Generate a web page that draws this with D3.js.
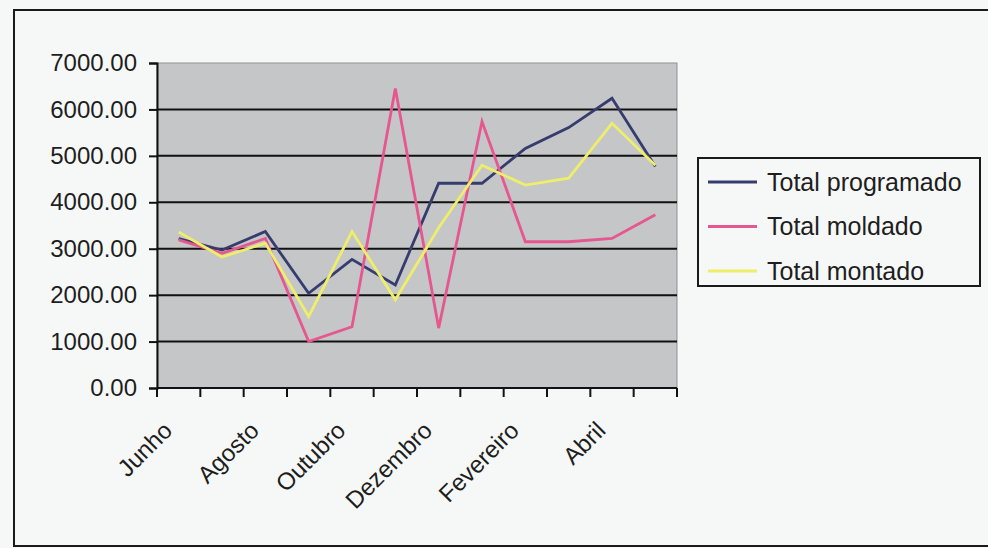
<!DOCTYPE html>
<html>
<head>
<meta charset="utf-8">
<script src="https://cdn.jsdelivr.net/npm/d3@7"></script>
<style>
  html, body { margin: 0; padding: 0; background: #f6f8f7; }
  svg { display: block; }
  text { font-family: "Liberation Sans", Arial, sans-serif; fill: #1e1e1e; }
</style>
</head>
<body>
<svg id="chart" width="988" height="548"></svg>
<script>
// Monthly totals, June through May
const months = ["Junho", "Julho", "Agosto", "Setembro", "Outubro", "Novembro",
                "Dezembro", "Janeiro", "Fevereiro", "Março", "Abril", "Maio"];
const shownMonths = ["Junho", "Agosto", "Outubro", "Dezembro", "Fevereiro", "Abril"];
const yTicks = [0, 1000, 2000, 3000, 4000, 5000, 6000, 7000];

const totalProgramado = [3220, 2970, 3370, 2040, 2770, 2220, 4410, 4410, 5160, 5610, 6240, 4770];
const totalMoldado    = [3190, 2900, 3220, 1000, 1320, 6450, 1290, 5740, 3150, 3150, 3220, 3730];
const totalMontado    = [3360, 2820, 3120, 1540, 3370, 1900, 3450, 4800, 4370, 4520, 5700, 4800];

const seriesNames = ["Total programado", "Total moldado", "Total montado"];
const seriesColors = ["#363c6e", "#e6568f", "#eeee6a"];
const series = [totalProgramado, totalMoldado, totalMontado].map((vals, i) => ({
  name: seriesNames[i], color: seriesColors[i], values: vals
}));

const svg = d3.select("#chart");

// outer chart frame (right edge runs off the page)
svg.append("rect")
  .attr("x", 14).attr("y", 10).attr("width", 1000).attr("height", 536)
  .attr("fill", "#f6f8f7").attr("stroke", "#1a1a1a").attr("stroke-width", 2);

const plot = { left: 157, right: 677, top: 63, bottom: 388 };

const x = d3.scaleBand().domain(months).range([plot.left, plot.right]).padding(0);
const y = d3.scaleLinear().domain([0, 7000]).range([plot.bottom, plot.top]);
const cx = m => x(m) + x.bandwidth() / 2;

// plot area
svg.append("rect")
  .attr("x", plot.left).attr("y", plot.top)
  .attr("width", plot.right - plot.left).attr("height", plot.bottom - plot.top)
  .attr("fill", "#c4c6c8").attr("stroke", "#8f9294").attr("stroke-width", 1);

// horizontal gridlines
svg.append("g").selectAll("line")
  .data(yTicks.filter(v => v > 0 && v < 7000))
  .join("line")
  .attr("x1", plot.left).attr("x2", plot.right)
  .attr("y1", d => y(d)).attr("y2", d => y(d))
  .attr("stroke", "#111").attr("stroke-width", 2);

// y axis
const yAxis = svg.append("g")
  .attr("transform", `translate(${plot.left},0)`)
  .call(d3.axisLeft(y).tickValues(yTicks).tickFormat(d3.format(".2f")).tickSize(8).tickPadding(12));
yAxis.select(".domain").attr("stroke", "#111").attr("stroke-width", 2);
yAxis.selectAll(".tick line").attr("stroke", "#111").attr("stroke-width", 2);
yAxis.selectAll(".tick text")
  .attr("font-size", 24).attr("fill", "#1e1e1e")
  .attr("font-family", "'Liberation Sans', Arial, sans-serif");

// x axis line and boundary ticks
const gx = svg.append("g");
gx.append("line")
  .attr("x1", plot.left).attr("x2", plot.right)
  .attr("y1", plot.bottom).attr("y2", plot.bottom)
  .attr("stroke", "#111").attr("stroke-width", 2);
const bounds = months.map(m => x(m)).concat([x.range()[1]]);
gx.selectAll("line.tk").data(bounds).join("line").attr("class", "tk")
  .attr("x1", d => d).attr("x2", d => d)
  .attr("y1", plot.bottom).attr("y2", plot.bottom + 9)
  .attr("stroke", "#111").attr("stroke-width", 2);

// rotated month labels
gx.selectAll("text").data(shownMonths).join("text")
  .attr("transform", d => `translate(${cx(d) - 5},${432}) rotate(-45)`)
  .attr("text-anchor", "end")
  .attr("font-size", 24)
  .text(d => d);

// series lines
const line = d3.line().x((d, i) => cx(months[i])).y(d => y(d));
svg.append("g").selectAll("path").data(series).join("path")
  .attr("d", s => line(s.values))
  .attr("fill", "none")
  .attr("stroke", s => s.color)
  .attr("stroke-width", 2.8)
  .attr("stroke-linejoin", "miter");

// legend
const lg = svg.append("g");
lg.append("rect")
  .attr("x", 698).attr("y", 158).attr("width", 282).attr("height", 128)
  .attr("fill", "#f6f8f7").attr("stroke", "#1a1a1a").attr("stroke-width", 2);
const rows = lg.selectAll("g.row").data(series).join("g").attr("class", "row")
  .attr("transform", (d, i) => `translate(0,${182 + i * 44.5})`);
rows.append("line")
  .attr("x1", 708).attr("x2", 757).attr("y1", 0).attr("y2", 0)
  .attr("stroke", d => d.color).attr("stroke-width", 2.8);
rows.append("text")
  .attr("x", 767).attr("y", 0).attr("dy", "0.35em")
  .attr("font-size", 25)
  .text(d => d.name);
</script>
</body>
</html>
